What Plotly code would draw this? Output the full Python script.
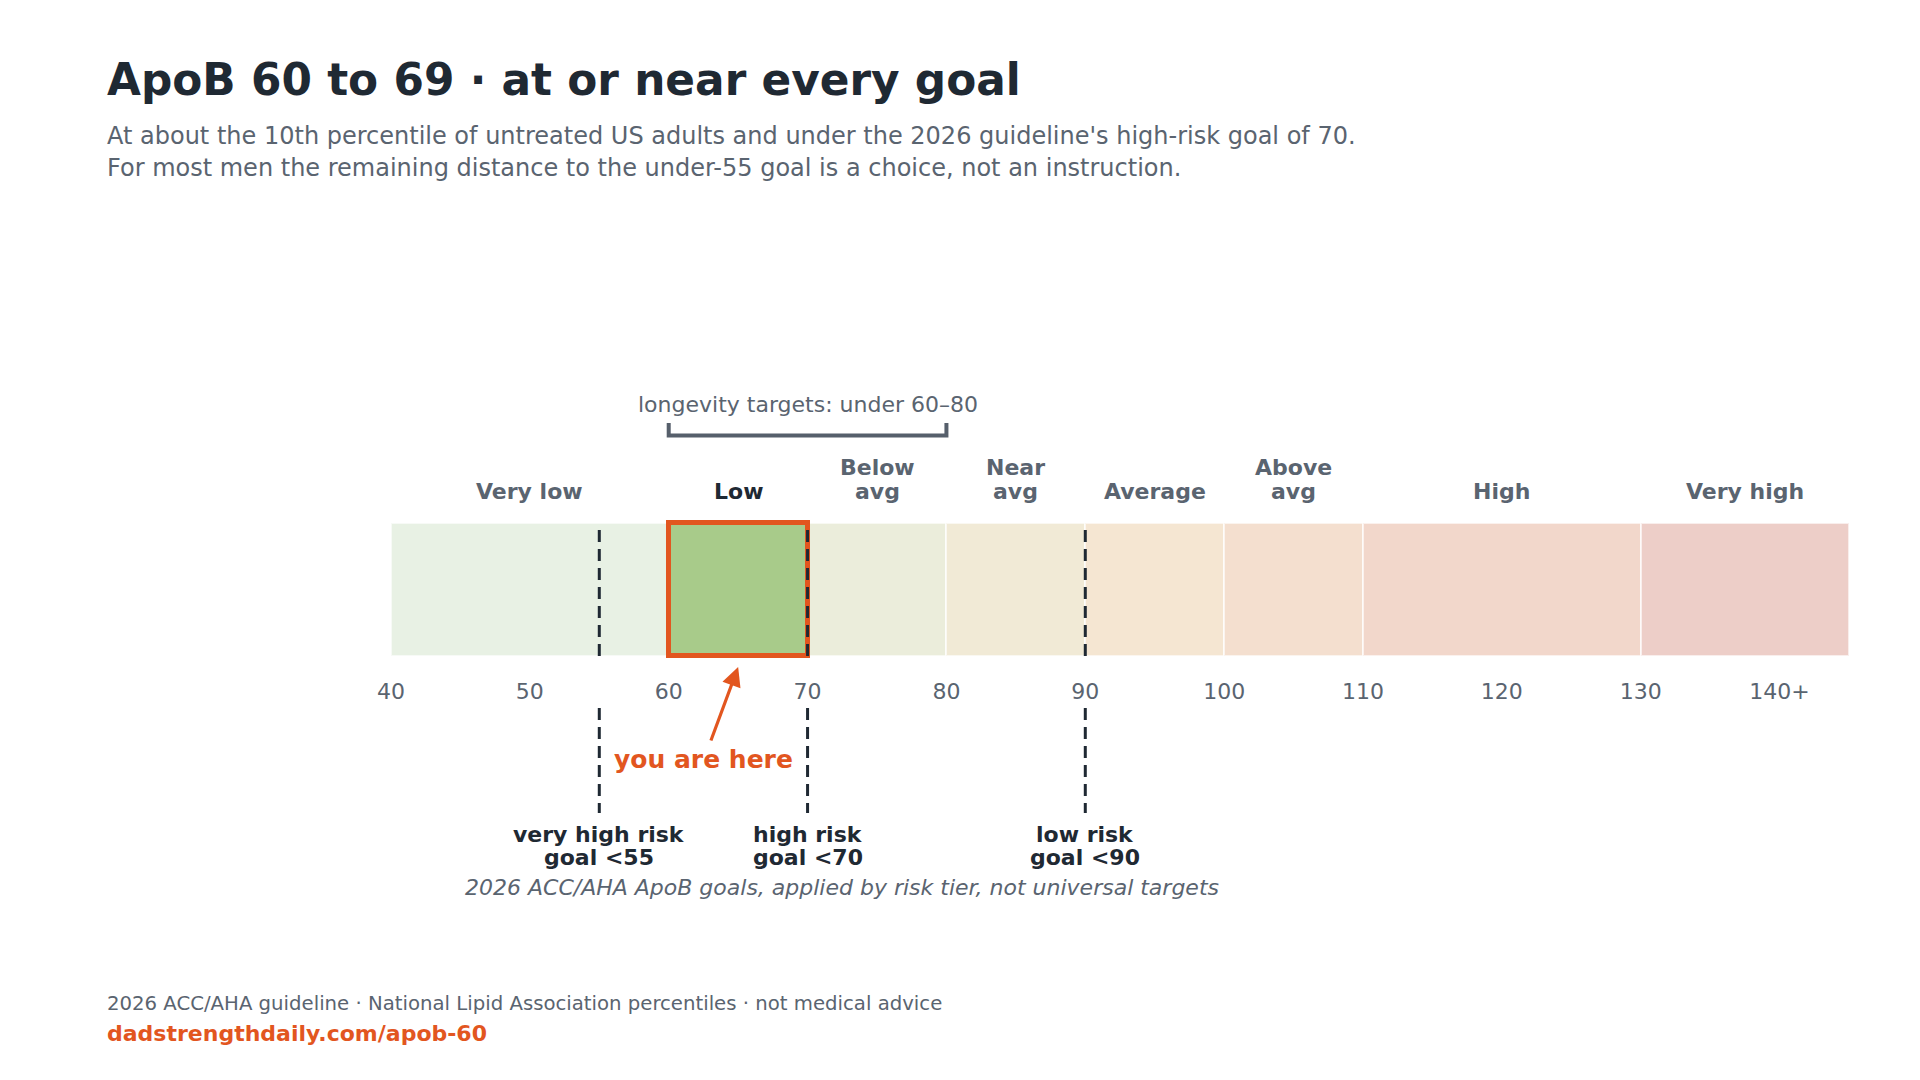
import plotly.graph_objects as go

# ---------------- data ----------------
band_names = ["Very low", "Low", "Below\navg", "Near\navg", "Average", "Above\navg", "High", "Very high"]
band_starts = [40, 60, 70, 80, 90, 100, 110, 130]
band_ends = [60, 70, 80, 90, 100, 110, 130, 145]
band_colors = ["#e8f1e4", "#e8f1e4", "#ebeddb", "#f1ead6", "#f5e6d2", "#f4dfcf", "#f2d7cb", "#edcec8"]

user_band = [60, 70]
user_label = "you are here"
user_point = 65

tick_values = [40, 50, 60, 70, 80, 90, 100, 110, 120, 130, 140]
tick_labels = ["40", "50", "60", "70", "80", "90", "100", "110", "120", "130", "140+"]

goal_values = [55, 70, 90]
goal_labels = ["very high risk\ngoal <55", "high risk\ngoal <70", "low risk\ngoal <90"]

longevity_range = [60, 80]
longevity_label = "longevity targets: under 60\u201380"

title = "ApoB 60 to 69 \u00b7 at or near every goal"
subtitle = ["At about the 10th percentile of untreated US adults and under the 2026 guideline's high-risk goal of 70.",
            "For most men the remaining distance to the under-55 goal is a choice, not an instruction."]
caption = "2026 ACC/AHA ApoB goals, applied by risk tier, not universal targets"
footer = "2026 ACC/AHA guideline \u00b7 National Lipid Association percentiles \u00b7 not medical advice"
url = "dadstrengthdaily.com/apob-60"

# ---------------- style / layout ----------------
W, H = 1920, 1080
FONT = "DejaVu Sans"
DARK = "#1f2933"
GRAY = "#5a6470"
ORANGE = "#e2561f"
GREEN = "#a8cb8a"
BRACKET = "#565f6b"

X_LEFT_PX, X_RIGHT_PX = 391, 1849          # pixel positions of 40 and 145
BAND_TOP_PX, BAND_BOT_PX = 523, 656         # band spans y = 0..1
TXT_SHIFT = 2.5                              # text baseline correction (px)
ppu_x = (X_RIGHT_PX - X_LEFT_PX) / (band_ends[-1] - band_starts[0])
x0 = band_starts[0] - X_LEFT_PX / ppu_x
x1 = x0 + W / ppu_x
ppu_y = BAND_BOT_PX - BAND_TOP_PX
y_lo = -(H - BAND_BOT_PX) / ppu_y
y_hi = BAND_BOT_PX / ppu_y


def ypx(px):
    """pixel row -> y data value"""
    return (BAND_BOT_PX - px) / ppu_y


def bottom_for_baseline(baseline_px, fs):
    return ypx(baseline_px + 0.236 * fs + 1 + TXT_SHIFT)


fig = go.Figure()

# background bands
fig.add_trace(go.Bar(
    orientation="h", y=[0.5] * len(band_starts),
    x=[e - s for s, e in zip(band_starts, band_ends)], base=band_starts, width=1,
    marker=dict(color=band_colors, line=dict(color="rgba(255,255,255,0.65)", width=2)),
    hoverinfo="skip", showlegend=False))

# highlighted user band
fig.add_trace(go.Bar(
    orientation="h", y=[0.5], x=[user_band[1] - user_band[0]], base=[user_band[0]], width=1,
    marker=dict(color=GREEN, line=dict(color=ORANGE, width=5)),
    hoverinfo="skip", showlegend=False))

# dashed goal lines (inside band and below axis)
gx, gy = [], []
for g in goal_values:
    gx += [g, g, None, g, g, None]
    gy += [0, 1, None, ypx(708), ypx(813), None]
fig.add_trace(go.Scatter(x=gx, y=gy, mode="lines",
                         line=dict(color=DARK, width=3, dash="12px,7px"),
                         hoverinfo="skip", showlegend=False))

# longevity bracket
yb, ye = ypx(435.5), ypx(423)
fig.add_trace(go.Scatter(
    x=[longevity_range[0], longevity_range[0], longevity_range[1], longevity_range[1]],
    y=[ye, yb, yb, ye], mode="lines",
    line=dict(color=BRACKET, width=4), hoverinfo="skip", showlegend=False))

annotations = []

# band labels (bottom-aligned, one annotation per line)
for name, s, e in zip(band_names, band_starts, band_ends):
    lines = name.split("\n")
    color = DARK if (s, e) == tuple(user_band) else GRAY
    for i, line in enumerate(reversed(lines)):
        baseline = 497 - 24 * i
        annotations.append(dict(x=(s + e) / 2, y=bottom_for_baseline(baseline, 22), xref="x", yref="y",
                                text=line, showarrow=False, xanchor="center", yanchor="bottom",
                                font=dict(family=FONT, size=22, color=color, weight="bold")))

# longevity label
annotations.append(dict(x=sum(longevity_range) / 2, y=bottom_for_baseline(410.5, 22), xref="x", yref="y",
                        text=longevity_label, showarrow=False, xanchor="center", yanchor="bottom",
                        font=dict(family=FONT, size=22, color=GRAY)))

# goal labels
for g, lab in zip(goal_values, goal_labels):
    for i, line in enumerate(lab.split("\n")):
        baseline = 840 + 23 * i
        annotations.append(dict(x=g, y=bottom_for_baseline(baseline, 22), xref="x", yref="y",
                                text=line, showarrow=False, xanchor="center", yanchor="bottom",
                                font=dict(family=FONT, size=22, color=DARK, weight="bold")))

# you are here
annotations.append(dict(x=62.5, y=bottom_for_baseline(767, 25), xref="x", yref="y",
                        text=user_label, showarrow=False, xanchor="center", yanchor="bottom",
                        font=dict(family=FONT, size=25, color=ORANGE, weight="bold")))
annotations.append(dict(x=user_point, y=ypx(667), xref="x", yref="y",
                        ax=63.0, ay=ypx(742), axref="x", ayref="y",
                        text="", showarrow=True, arrowhead=2, arrowsize=1.2, arrowwidth=3.2,
                        arrowcolor=ORANGE, standoff=0, startstandoff=0))

# caption
annotations.append(dict(x=(goal_values[0] + goal_values[-1]) / 2, y=bottom_for_baseline(893, 22),
                        xref="x", yref="y", text=caption, showarrow=False,
                        xanchor="center", yanchor="bottom",
                        font=dict(family=FONT, size=22, color=GRAY, style="italic")))

# title / subtitle / footer (paper)
LEFT = 105 / W


def pap(baseline, fs):
    return 1 - (baseline + 0.236 * fs + 1 + TXT_SHIFT) / H


annotations.append(dict(x=LEFT, y=pap(93.5, 43.8), xref="paper", yref="paper", text=title,
                        showarrow=False, xanchor="left", yanchor="bottom",
                        font=dict(family=FONT, size=43.8, color=DARK, weight="bold")))
for i, line in enumerate(subtitle):
    annotations.append(dict(x=LEFT, y=pap(142.7 + 32.5 * i, 24), xref="paper", yref="paper", text=line,
                            showarrow=False, xanchor="left", yanchor="bottom",
                            font=dict(family=FONT, size=24, color=GRAY)))
annotations.append(dict(x=LEFT, y=pap(1009, 19.7), xref="paper", yref="paper", text=footer,
                        showarrow=False, xanchor="left", yanchor="bottom",
                        font=dict(family=FONT, size=19.7, color=GRAY)))
annotations.append(dict(x=LEFT, y=pap(1039.5, 22), xref="paper", yref="paper", text=url,
                        showarrow=False, xanchor="left", yanchor="bottom",
                        font=dict(family=FONT, size=22, color=ORANGE, weight="bold")))

fig.update_layout(
    width=W, height=H,
    margin=dict(l=0, r=0, t=0, b=0),
    paper_bgcolor="white", plot_bgcolor="white",
    barmode="overlay", bargap=0,
    showlegend=False,
    xaxis=dict(range=[x0, x1], domain=[0, 1], anchor="free", position=1 - BAND_BOT_PX / H,
               tickmode="array", tickvals=tick_values, ticktext=tick_labels,
               ticks="outside", ticklen=15.5, tickcolor="rgba(0,0,0,0)",
               tickfont=dict(family=FONT, size=22, color=GRAY),
               showgrid=False, zeroline=False, showline=False, fixedrange=True),
    yaxis=dict(range=[y_lo, y_hi], domain=[0, 1], visible=False, fixedrange=True),
    annotations=annotations,
)

fig.write_html("out.html", config={"displayModeBar": False},
               post_script="document.body.style.margin='0';document.body.style.overflow='hidden';")
